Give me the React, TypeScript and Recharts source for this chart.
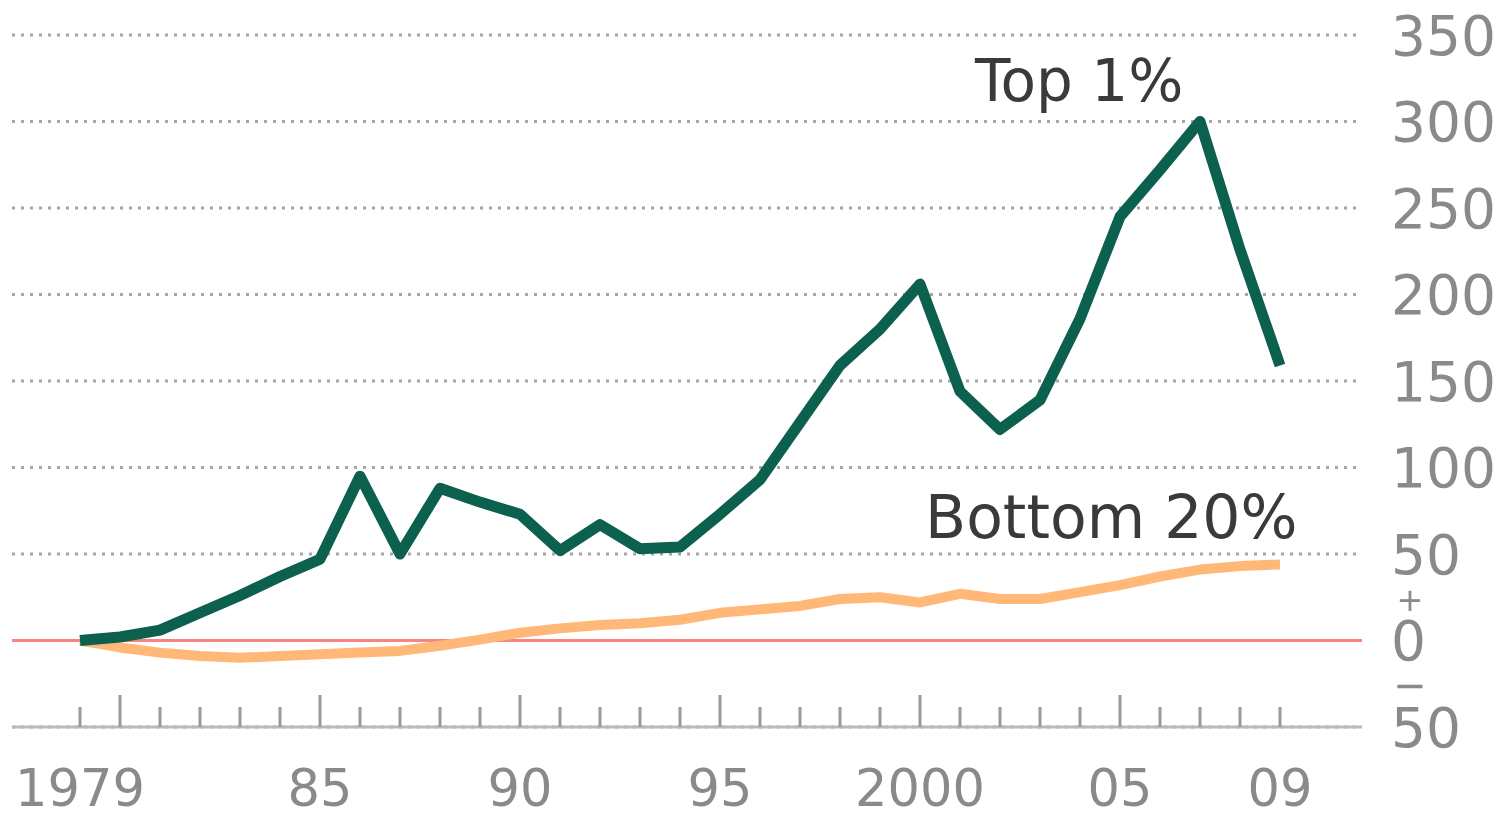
import React from "react";
import { LineChart, Line, XAxis, YAxis, CartesianGrid, ReferenceLine } from "recharts";

const years = [
  1979, 1980, 1981, 1982, 1983, 1984, 1985, 1986, 1987, 1988, 1989, 1990, 1991, 1992, 1993, 1994,
  1995, 1996, 1997, 1998, 1999, 2000, 2001, 2002, 2003, 2004, 2005, 2006, 2007, 2008, 2009,
];

// % change in after-tax income since 1979
const top1 = [
  0, 2, 6, 16, 26, 37, 47, 95, 50, 88, 80, 73, 52, 67, 53, 54,
  73, 93, 126, 159, 180, 206, 144, 122, 139, 186, 245, 272, 300, 226, 159,
];
const bottom20 = [
  0, -4, -7, -9, -10, -9, -8, -7, -6, -3, 0.5, 4.5, 7, 9, 10, 12,
  16, 18, 20, 24, 25, 22, 27, 24, 24, 28, 32, 37, 41, 43, 44,
];

const yTicks = [-50, 0, 50, 100, 150, 200, 250, 300, 350];
const xLabelYears = [1979, 1985, 1990, 1995, 2000, 2005, 2009];
const xLabels = ["1979", "85", "90", "95", "2000", "05", "09"];

const data = years.map((year, i) => ({ year, top1: top1[i], bottom20: bottom20[i] }));

const FONT = "'DejaVu Sans', sans-serif";
const GREY = "#8a8a8a";

function XTick(props: any) {
  const { x, y, payload } = props;
  const yr = payload.value;
  const tall = yr % 5 === 0;
  const idx = xLabelYears.indexOf(yr);
  return (
    <g>
      <line x1={x} x2={x} y1={y} y2={y - (tall ? 32 : 20)} stroke="#9a9a9a" strokeWidth={3} />
      {idx >= 0 && (
        <text x={x} y={y + 61} dy="0.36em" textAnchor="middle" fontSize={51} fill={GREY} fontFamily={FONT}>
          {xLabels[idx]}
        </text>
      )}
    </g>
  );
}

function YTick(props: any) {
  const { x, y, payload } = props;
  const v = payload.value;
  return (
    <g>
      <text x={x + 29} y={y} dy="0.36em" textAnchor="start" fontSize={55} fill={GREY} fontFamily={FONT}>
        {Math.abs(v)}
      </text>
      {v === 0 && (
        <>
          <text x={x + 48} y={y - 41} dy="0.36em" textAnchor="middle" fontSize={32} fill={GREY} fontFamily={FONT}>
            +
          </text>
          <text x={x + 48} y={y + 44} dy="0.36em" textAnchor="middle" fontSize={40} fill={GREY} fontFamily={FONT}>
            −
          </text>
        </>
      )}
    </g>
  );
}

export default function App() {
  return (
    <div style={{ position: "absolute", left: 0, top: 0, width: 1501, height: 815, background: "#fff" }}>
      <LineChart width={1501} height={815} data={data} margin={{ top: 35, right: 0, bottom: 0, left: 12 }}>
        <CartesianGrid horizontal vertical={false} stroke="#a6a6a6" strokeWidth={3} strokeDasharray="3 6" />
        <XAxis
          dataKey="year"
          type="number"
          domain={[1977.3, 2011.05]}
          allowDataOverflow
          ticks={years}
          interval={0}
          height={88}
          tickSize={0}
          tickMargin={0}
          tickLine={false}
          axisLine={{ stroke: "#bababa", strokeWidth: 3 }}
          tick={<XTick />}
        />
        <YAxis
          orientation="right"
          domain={[-50, 350]}
          ticks={yTicks}
          interval={0}
          width={139}
          tickSize={0}
          tickMargin={0}
          tickLine={false}
          axisLine={false}
          tick={<YTick />}
        />
        <ReferenceLine y={0} stroke="#f88383" strokeWidth={3} />
        <Line
          dataKey="bottom20"
          type="linear"
          stroke="#ffb878"
          strokeWidth={10}
          dot={false}
          strokeLinejoin="round"
          isAnimationActive={false}
        />
        <Line
          dataKey="top1"
          type="linear"
          stroke="#0c604e"
          strokeWidth={11}
          dot={false}
          strokeLinejoin="round"
          isAnimationActive={false}
        />
      </LineChart>
      <svg width={1501} height={815} style={{ position: "absolute", left: 0, top: 0, pointerEvents: "none" }}>
        <text x={975} y={101} fontSize={58} fill="#3a3a3a" fontFamily={FONT}>
          Top 1%
        </text>
        <text x={925} y={538} fontSize={60} fill="#3a3a3a" fontFamily={FONT}>
          Bottom 20%
        </text>
      </svg>
    </div>
  );
}
